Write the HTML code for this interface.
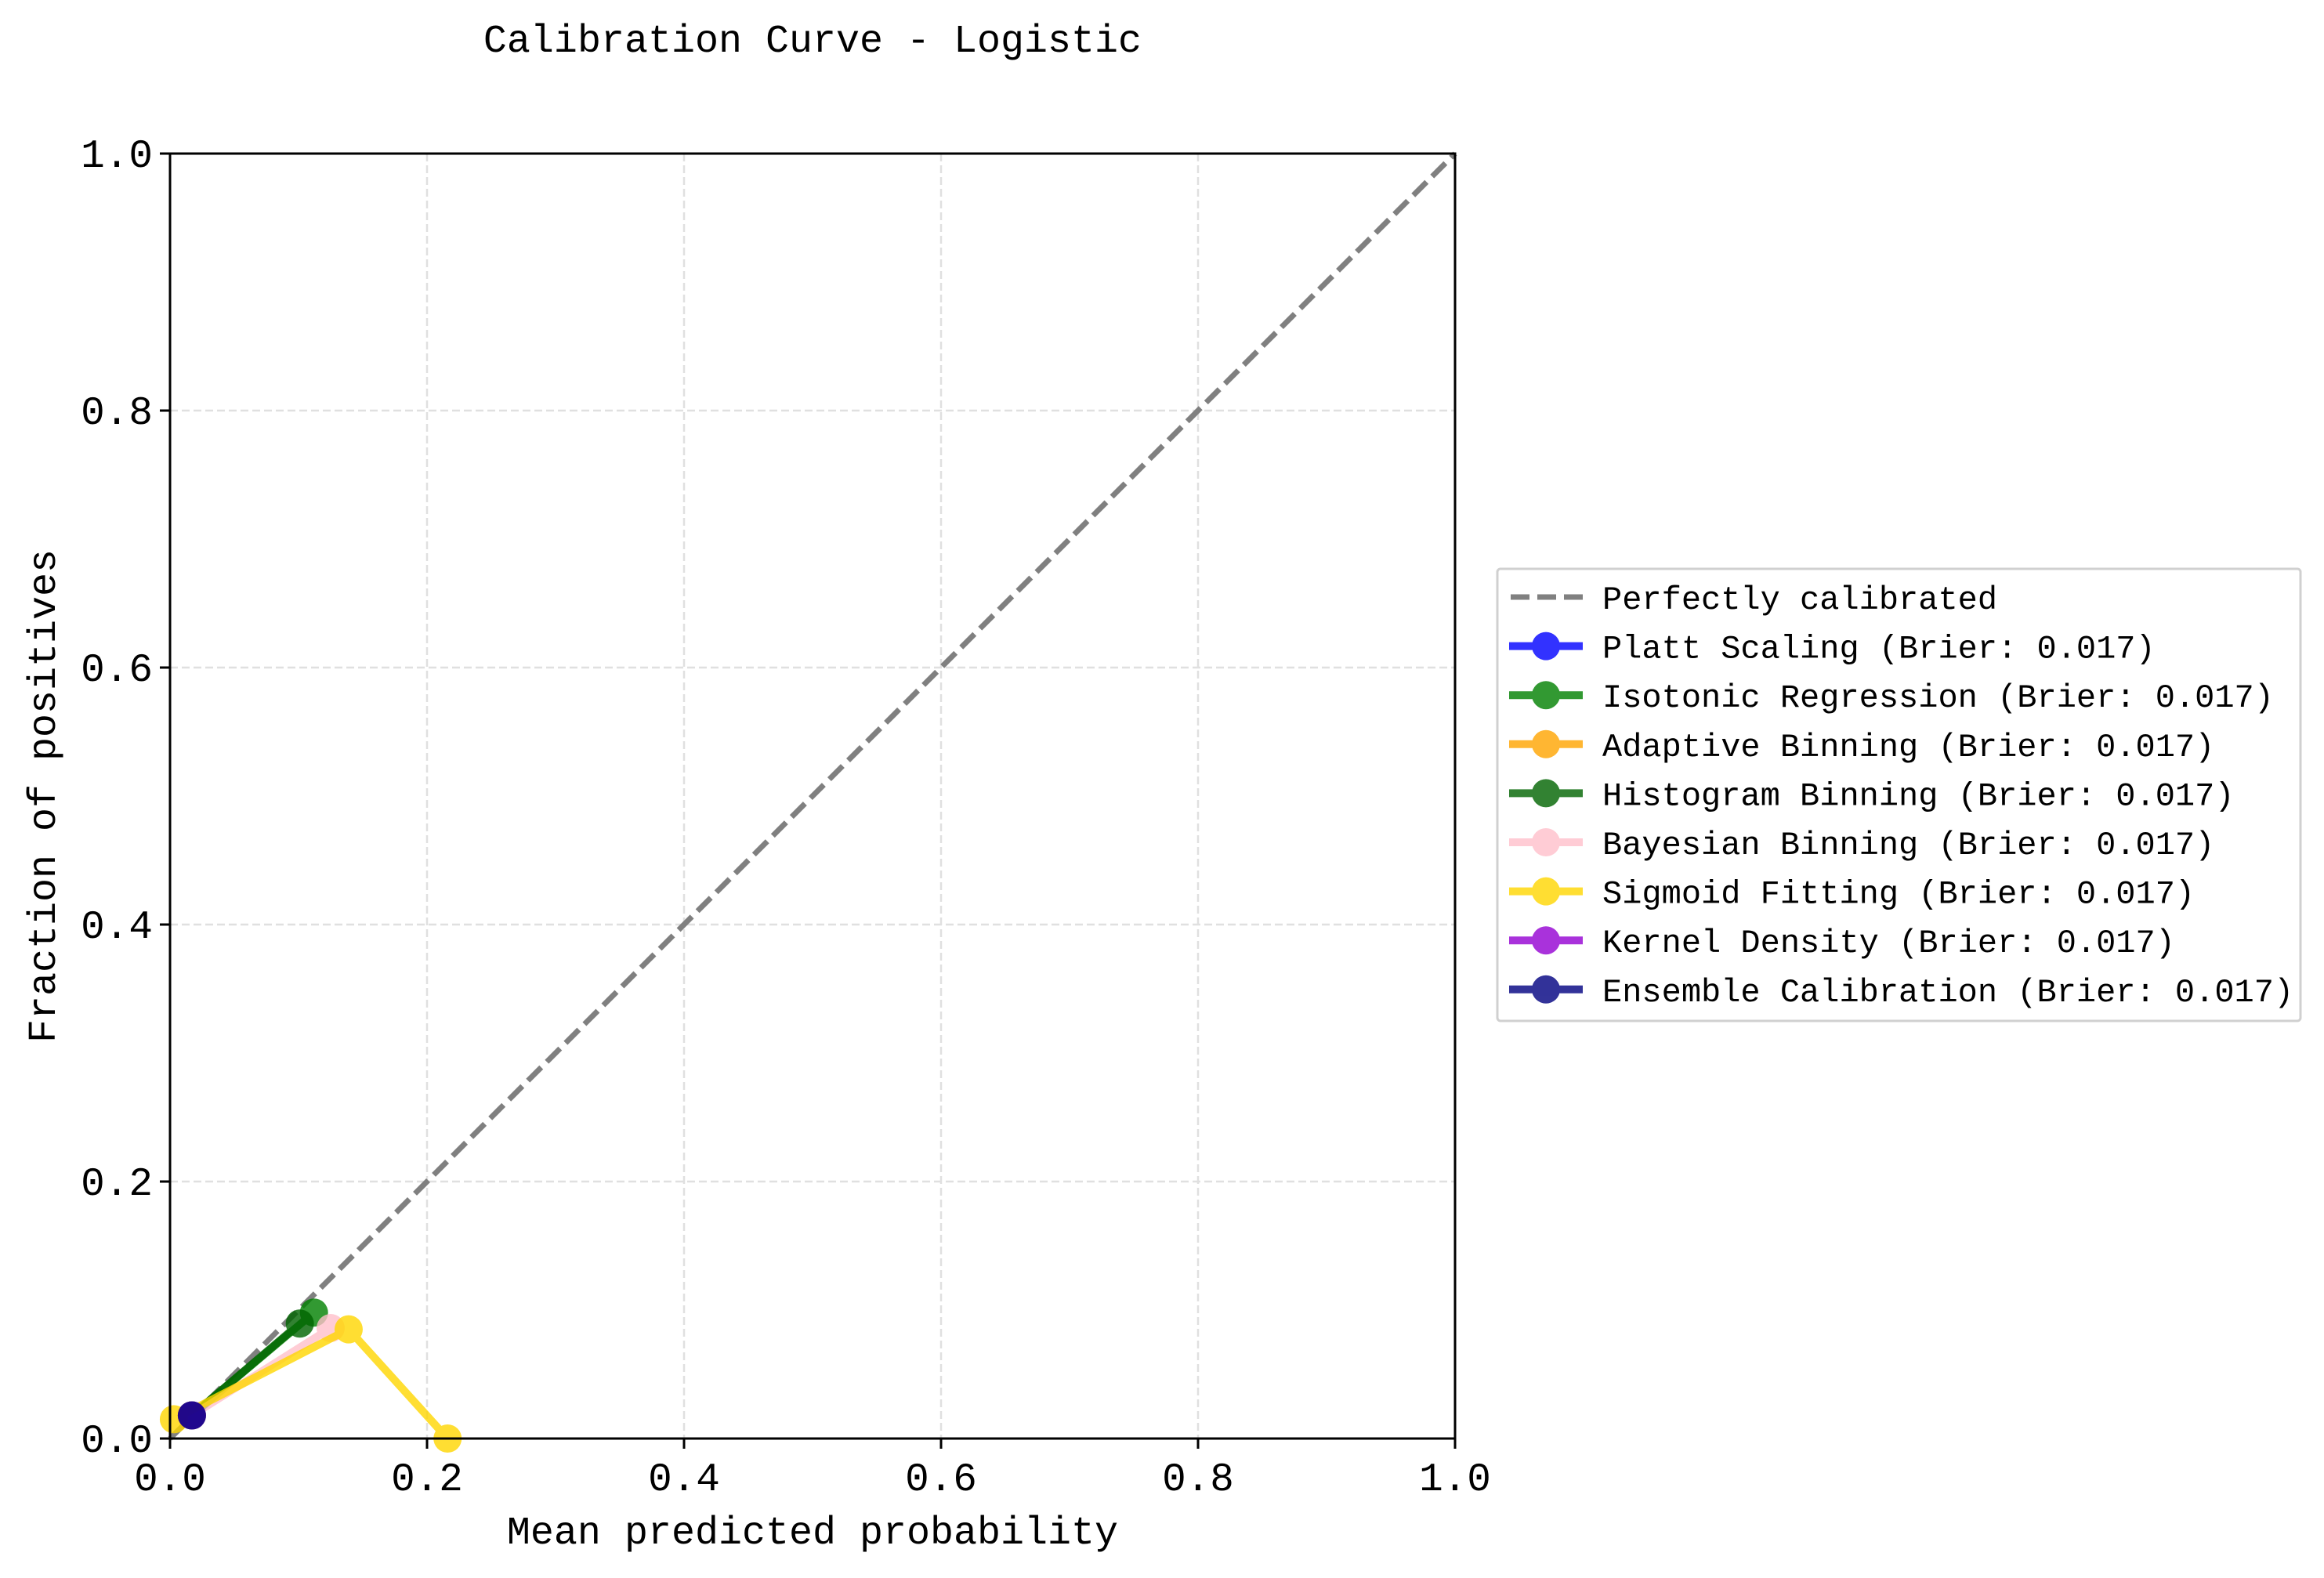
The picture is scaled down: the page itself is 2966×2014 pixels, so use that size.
<!DOCTYPE html>
<html><head><meta charset="utf-8"><style>
html,body{margin:0;padding:0;background:#fff}
svg{display:block}
text{font-family:"Liberation Mono","DejaVu Sans Mono",monospace;fill:#000}
</style></head><body>
<svg id="chart" width="2966" height="2014" viewBox="0 0 2966 2014" xmlns="http://www.w3.org/2000/svg">
<rect width="2966" height="2014" fill="#fff"/>
<text x="1037" y="66" font-size="50" text-anchor="middle">Calibration Curve - Logistic</text>
<g id="grid"></g>
<g id="series"></g>
<rect x="217" y="196" width="1640" height="1640" fill="none" stroke="#000" stroke-width="3"/>
<g id="ticks"></g>
<text x="1037" y="1970" font-size="50" text-anchor="middle">Mean predicted probability</text>
<text x="70" y="1016" font-size="50" text-anchor="middle" transform="rotate(-90 70 1016)">Fraction of positives</text>
<g id="legend"></g>
</svg>
<script>
const tickValues = [0, 0.2, 0.4, 0.6, 0.8, 1.0];
const tickLabels = ["0.0","0.2","0.4","0.6","0.8","1.0"];
const seriesNames = ["Platt Scaling","Isotonic Regression","Adaptive Binning","Histogram Binning","Bayesian Binning","Sigmoid Fitting","Kernel Density","Ensemble Calibration"];
const seriesColors = ["#0000ff","#008000","#ffa500","#006400","#ffc0cb","#ffd700","#9400d3","#000080"];
const brierScores = ["0.017","0.017","0.017","0.017","0.017","0.017","0.017","0.017"];
const xPlatt = [0.017]; const yPlatt = [0.018];
const xIso = [0.017, 0.112]; const yIso = [0.018, 0.098];
const xAdapt = [0.017]; const yAdapt = [0.018];
const xHist = [0.017, 0.101]; const yHist = [0.018, 0.0895];
const xBayes = [0.017, 0.125]; const yBayes = [0.018, 0.086];
const xSig = [0.003, 0.139, 0.216]; const ySig = [0.015, 0.085, 0.0];
const xKern = [0.017]; const yKern = [0.018];
const xEns = [0.017]; const yEns = [0.018];
const seriesX = [xPlatt,xIso,xAdapt,xHist,xBayes,xSig,xKern,xEns];
const seriesY = [yPlatt,yIso,yAdapt,yHist,yBayes,ySig,yKern,yEns];

const NS="http://www.w3.org/2000/svg";
const L=217,T=196,W=1640,H=1640;
const sx=v=>L+v*W, sy=v=>T+H-v*H;
function mk(tag,attrs,parent){const e=document.createElementNS(NS,tag);for(const k in attrs)e.setAttribute(k,attrs[k]);parent.appendChild(e);return e;}
const grid=document.getElementById('grid'),ticks=document.getElementById('ticks'),ser=document.getElementById('series'),leg=document.getElementById('legend');
tickValues.forEach((v,i)=>{
  let g1=mk('line',{x1:sx(v),x2:sx(v),y1:T,y2:T+H,stroke:'#e0e0e0','stroke-width':2.5,'stroke-dasharray':'10,5'},grid);
  
  
  let g2=mk('line',{x1:L,x2:L+W,y1:sy(v),y2:sy(v),stroke:'#e0e0e0','stroke-width':2.5,'stroke-dasharray':'10,5'},grid);
  
  
  let t1=mk('line',{x1:sx(v),x2:sx(v),y1:T+H,y2:T+H+13,stroke:'#000','stroke-width':3},ticks);
  
  
  let t2=mk('line',{x1:L-13,x2:L,y1:sy(v),y2:sy(v),stroke:'#000','stroke-width':3},ticks);
  
  
  let xl=mk('text',{x:sx(v),y:T+H+66,'font-size':51,'text-anchor':'middle'},ticks);xl.textContent=tickLabels[i];
  
  
  let yl=mk('text',{x:L-22,y:sy(v)+17,'font-size':51,'text-anchor':'end'},ticks);yl.textContent=tickLabels[i];
  
  
});
let diag=mk('line',{x1:sx(0),y1:sy(0),x2:sx(1),y2:sy(1),stroke:'#808080','stroke-width':7,'stroke-dasharray':'24,10'},ser);


seriesNames.forEach((n,i)=>{
  const g=mk('g',{opacity:0.8},ser);
  
  
  const xs=seriesX[i],ys=seriesY[i];
  if(xs.length>1){
    const p=mk('polyline',{points:xs.map((x,j)=>sx(x)+','+sy(ys[j])).join(' '),fill:'none',stroke:seriesColors[i],'stroke-width':10,'stroke-linejoin':'round'},g);
    
    
  }
  xs.forEach((x,j)=>{
    const c=mk('circle',{cx:sx(x),cy:sy(ys[j]),r:18,fill:seriesColors[i]},g);
    
    
  });
});
const lb=mk('rect',{x:1911,y:726,width:1025,height:577,fill:'#fff',stroke:'#d0d0d0','stroke-width':3,rx:4},leg);


const labels=["Perfectly calibrated"].concat(seriesNames.map((n,i)=>n+" (Brier: "+brierScores[i]+")"));
labels.forEach((lab,k)=>{
  const y=762+k*62.6;
  const g=mk('g',{},leg);
  
  
  if(k===0){mk('line',{x1:1928,x2:2020,y1:y,y2:y,stroke:'#808080','stroke-width':7,'stroke-dasharray':'24,10'},g);}
  else{const gg=mk('g',{opacity:0.8},g);
    mk('line',{x1:1926,x2:2020,y1:y,y2:y,stroke:seriesColors[k-1],'stroke-width':10},gg);
    mk('circle',{cx:1973,cy:y,r:18,fill:seriesColors[k-1]},gg);}
  const t=mk('text',{x:2045,y:y+15,'font-size':42},g);t.textContent=lab;
});
</script>
</body></html>
